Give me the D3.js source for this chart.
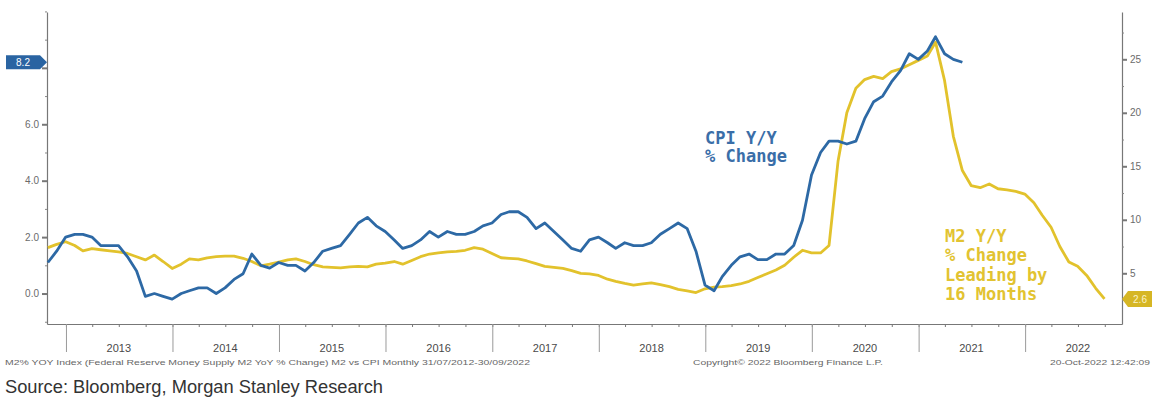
<!DOCTYPE html>
<html lang="en">
<head>
<meta charset="UTF-8">
<title>M2 vs CPI</title>
<style>
    *{
        box-sizing: border-box;
    }
    body{
        margin: 0;
        background: #fff;
    }
    #main{
        width: 1152px;
        height: 398px;
    }
</style>
</head>
<body>
<div id="main"></div>
<script src="https://d3js.org/d3.v7.min.js"></script>
<script>
    /*=========== 1 - data ===========*/
    // year labels along the x axis
    const years=[2013,2014,2015,2016,2017,2018,2019,2020,2021,2022]

    // CPI Y/Y % change, monthly Feb 2014 .. Sep 2022 (drawn 16 months earlier)
    const cpiFirstMonth=[2014,1]
    const cpiLead=16
    const cpiValues=[
        1.1,1.5,2.0,2.1,2.1,2.0,1.7,1.7,1.7,1.3,0.8,
        -0.1,0.0,-0.1,-0.2,0.0,0.1,0.2,0.2,0.0,0.2,0.5,0.7,
        1.4,1.0,0.9,1.1,1.0,1.0,0.8,1.1,1.5,1.6,1.7,2.1,
        2.5,2.7,2.4,2.2,1.9,1.6,1.7,1.9,2.2,2.0,2.2,2.1,
        2.1,2.2,2.4,2.5,2.8,2.9,2.9,2.7,2.3,2.5,2.2,1.9,
        1.6,1.5,1.9,2.0,1.8,1.6,1.8,1.7,1.7,1.8,2.1,2.3,
        2.5,2.3,1.5,0.3,0.1,0.6,1.0,1.3,1.4,1.2,1.2,1.4,
        1.4,1.7,2.6,4.2,5.0,5.4,5.4,5.3,5.4,6.2,6.8,7.0,
        7.5,7.9,8.5,8.3,8.6,9.1,8.5,8.3,8.2
    ]

    // M2 Y/Y % change, monthly Oct 2012 .. Sep 2022
    const m2FirstMonth=[2012,9]
    const m2Values=[
        7.4,7.7,7.95,
        7.6,7.1,7.3,7.2,7.1,7.0,6.85,6.55,6.25,6.7,6.1,5.45,
        5.85,6.35,6.25,6.45,6.55,6.6,6.6,6.4,6.1,5.7,5.85,6.05,
        6.25,6.35,6.1,5.8,5.6,5.55,5.5,5.6,5.65,5.6,5.85,5.95,
        6.1,5.85,6.2,6.55,6.8,6.9,7.0,7.05,7.15,7.4,7.25,6.85,
        6.45,6.4,6.35,6.15,5.9,5.65,5.55,5.45,5.25,5.0,4.95,4.8,
        4.45,4.25,4.05,3.9,4.0,4.1,3.95,3.75,3.5,3.35,3.2,3.55,
        3.7,3.75,3.85,4.0,4.25,4.6,4.95,5.3,5.75,6.5,7.15,6.9,
        6.9,7.6,15.5,20.0,22.3,23.1,23.4,23.2,23.85,24.1,24.5,24.9,
        25.3,26.6,23.0,17.8,14.6,13.2,13.0,13.35,12.9,12.8,12.65,12.4,
        11.6,10.45,9.3,7.5,6.05,5.65,4.8,3.6,2.6
    ]

    // axis ticks
    const leftTicks=[0,2,4,6,8]
    const leftMinor=[-1,1,3,5,7,9,10]
    const rightTicks=[5,10,15,20,25]
    const rightMinor=[2.5,7.5,12.5,17.5,22.5,27.5]

    // last value tags
    const cpiLast=8.2
    const m2Last=2.6

    // texts
    const cpiNote=['CPI Y/Y','% Change']
    const m2Note=['M2 Y/Y','% Change','Leading by','16 Months']
    const footLeft='M2% YOY Index (Federal Reserve Money Supply M2 YoY % Change) M2 vs CPI  Monthly 31/07/2012-30/09/2022'
    const footMid='Copyright\u00A9 2022 Bloomberg Finance L.P.'
    const footRight='20-Oct-2022 12:42:09'
    const source='Source: Bloomberg, Morgan Stanley Research'

    /*=========== 2 - container ===========*/
    const width=1152
    const height=398
    const blue='#2d69a5'
    const yellow='#e2c22c'

    const svg=d3.select('#main').append('svg')
        .attr('width',width)
        .attr('height',height)
        .attr('viewBox',`0 0 ${width} ${height}`)
        .style('font-family','"Liberation Sans", Arial, sans-serif')

    // plot box
    const plot={left:47,right:1122,top:12,bottom:324}

    /*=========== 3 - scales ===========*/
    const xScale=d3.scaleTime()
        .domain([new Date(2012,9,28),new Date(2022,10,29)])
        .range([plot.left,plot.right])

    const yLeft=d3.scaleLinear()
        .domain([-1.08,9.98])
        .range([plot.bottom,plot.top])

    const yRight=d3.scaleLinear()
        .domain([0.26,29.42])
        .range([plot.bottom,plot.top])

    // monthly points sit at month end
    const cpiData=cpiValues.map((v,i)=>({
        date:new Date(cpiFirstMonth[0],cpiFirstMonth[1]-cpiLead+i+1,0),
        v:v
    }))
    const m2Data=m2Values.map((v,i)=>({
        date:new Date(m2FirstMonth[0],m2FirstMonth[1]+i+1,0),
        v:v
    }))

    /*=========== 4 - axes ===========*/
    const styleAxis=(g,color)=>{
        g.selectAll('path.domain').attr('stroke',color).attr('stroke-width',1.2)
        g.selectAll('.tick line').attr('stroke',color)
        g.selectAll('.tick text').attr('fill','#6b6b6b').style('font-size','10px')
    }

    // left axis
    svg.append('g')
        .attr('transform',`translate(${plot.left},0)`)
        .call(d3.axisLeft(yLeft).tickValues(leftTicks)
            .tickFormat(d=>d===8?'':d3.format('.1f')(d))
            .tickSize(5).tickSizeOuter(0).tickPadding(3))
        .call(g=>styleAxis(g,'#777'))
        .call(g=>g.selectAll('.tick line').attr('stroke-width',2))
    svg.append('g')
        .attr('transform',`translate(${plot.left},0)`)
        .call(d3.axisLeft(yLeft).tickValues(leftMinor).tickFormat('').tickSize(2))
        .call(g=>g.select('.domain').remove())
        .call(g=>g.selectAll('.tick line').attr('stroke','#888'))

    // right axis
    svg.append('g')
        .attr('transform',`translate(${plot.right},0)`)
        .call(d3.axisRight(yRight).tickValues(rightTicks)
            .tickSize(5).tickSizeOuter(0).tickPadding(3))
        .call(g=>styleAxis(g,'#777'))
        .call(g=>g.selectAll('.tick line').attr('stroke-width',2))
    svg.append('g')
        .attr('transform',`translate(${plot.right},0)`)
        .call(d3.axisRight(yRight).tickValues(rightMinor).tickFormat('').tickSize(2))
        .call(g=>g.select('.domain').remove())
        .call(g=>g.selectAll('.tick line').attr('stroke','#888'))

    // bottom axis: quarter ticks
    svg.append('g')
        .attr('transform',`translate(0,${plot.bottom})`)
        .call(d3.axisBottom(xScale).ticks(d3.timeMonth.every(3)).tickFormat('')
            .tickSize(3).tickSizeOuter(0))
        .call(g=>styleAxis(g,'#777'))

    // year dividers
    svg.append('g')
        .attr('transform',`translate(0,${plot.bottom})`)
        .call(d3.axisBottom(xScale).tickValues(years.map(y=>new Date(y,0,1)))
            .tickFormat('').tickSize(28).tickSizeOuter(0))
        .call(g=>g.select('.domain').remove())
        .call(g=>g.selectAll('.tick line').attr('stroke','#9a9a9a'))

    // year labels, centred in the year
    svg.append('g').selectAll('text')
        .data(years)
        .join('text')
        .attr('x',d=>xScale(new Date(d,6,1)))
        .attr('y',352)
        .attr('text-anchor','middle')
        .attr('fill','#4a4a4a')
        .style('font-size','11px')
        .text(d=>d)

    /*=========== 5 - lines ===========*/
    const m2Line=d3.line()
        .x(d=>xScale(d.date))
        .y(d=>yRight(d.v))
    const cpiLine=d3.line()
        .x(d=>xScale(d.date))
        .y(d=>yLeft(d.v))

    svg.append('path')
        .datum(m2Data)
        .attr('d',m2Line)
        .attr('fill','none')
        .attr('stroke',yellow)
        .attr('stroke-width',2.8)
        .attr('stroke-linejoin','round')

    svg.append('path')
        .datum(cpiData)
        .attr('d',cpiLine)
        .attr('fill','none')
        .attr('stroke',blue)
        .attr('stroke-width',2.8)
        .attr('stroke-linejoin','round')

    /*=========== 6 - last value tags ===========*/
    const yc=yLeft(cpiLast)
    svg.append('path')
        .attr('d',`M6,${yc-7}H40L${plot.left},${yc}L40,${yc+7}H6Z`)
        .attr('fill','#2a64a2')
    svg.append('text')
        .attr('x',23).attr('y',yc+4)
        .attr('text-anchor','middle')
        .attr('fill','#fff')
        .style('font-size','10px')
        .text(d3.format('.1f')(cpiLast))

    const ym=yRight(m2Last)
    svg.append('path')
        .attr('d',`M${plot.right},${ym}L${plot.right+6},${ym-8}H1152V${ym+8}H${plot.right+6}Z`)
        .attr('fill','#d6b624')
    svg.append('text')
        .attr('x',1140).attr('y',ym+4)
        .attr('text-anchor','middle')
        .attr('fill','#fbf3c8')
        .style('font-size','10px')
        .text(d3.format('.1f')(m2Last))

    /*=========== 7 - notes ===========*/
    svg.append('g').selectAll('text')
        .data(cpiNote)
        .join('text')
        .attr('x',705)
        .attr('y',(d,i)=>144+i*18)
        .attr('fill','#3a6ea8')
        .style('font-family','"DejaVu Sans Mono", monospace')
        .style('font-weight','bold')
        .style('font-size','17px')
        .text(d=>d)

    svg.append('g').selectAll('text')
        .data(m2Note)
        .join('text')
        .attr('x',945)
        .attr('y',(d,i)=>242+i*19.3)
        .attr('fill','#e2c331')
        .style('font-family','"DejaVu Sans Mono", monospace')
        .style('font-weight','bold')
        .style('font-size','17px')
        .text(d=>d)

    /*=========== 8 - footer ===========*/
    svg.append('text')
        .attr('x',5).attr('y',365)
        .attr('fill','#666')
        .attr('textLength',525).attr('lengthAdjust','spacingAndGlyphs')
        .style('font-size','7px')
        .text(footLeft)
    svg.append('text')
        .attr('x',693).attr('y',365)
        .attr('fill','#666')
        .attr('textLength',190).attr('lengthAdjust','spacingAndGlyphs')
        .style('font-size','7px')
        .text(footMid)
    svg.append('text')
        .attr('x',1050).attr('y',365)
        .attr('fill','#666')
        .attr('textLength',100).attr('lengthAdjust','spacingAndGlyphs')
        .style('font-size','7px')
        .text(footRight)

    svg.append('text')
        .attr('x',5).attr('y',393)
        .attr('fill','#333')
        .style('font-size','18.3px')
        .text(source)
</script>
</body>
</html>
